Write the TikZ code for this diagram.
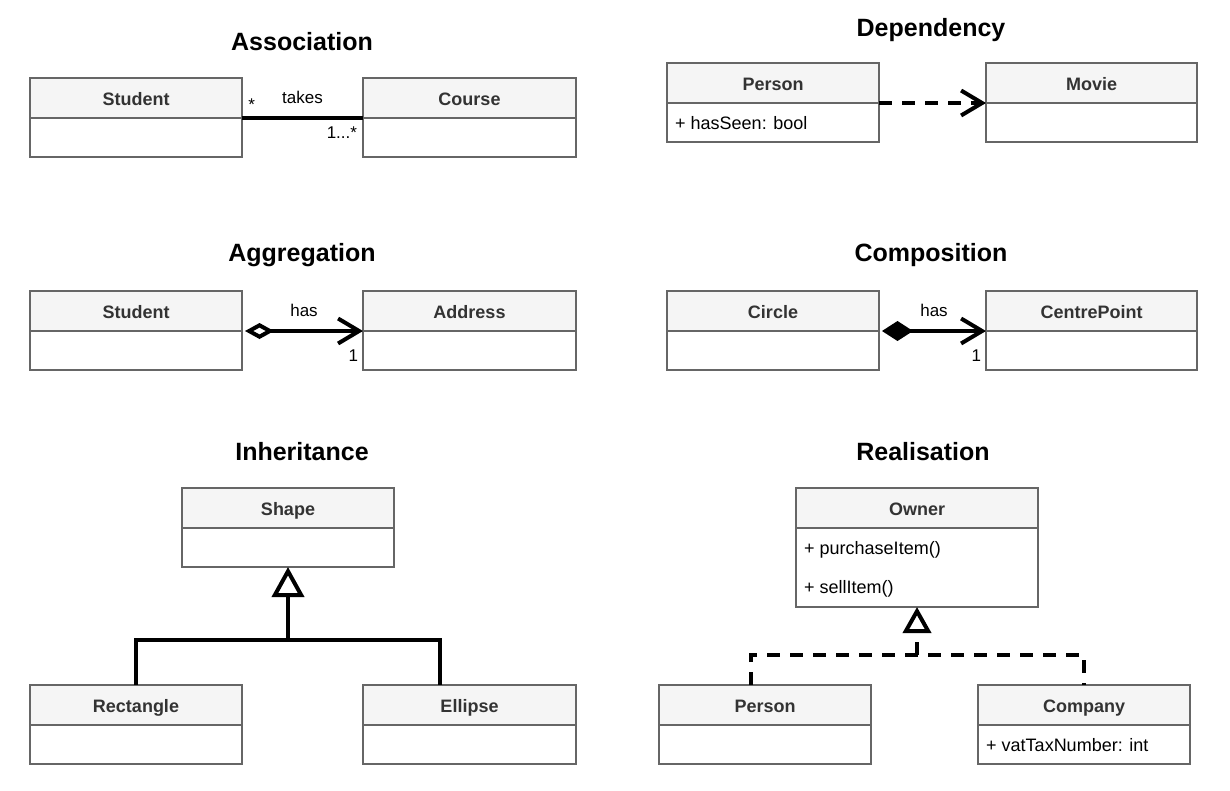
\documentclass[tikz,border=0pt]{standalone}
\usepackage{fontspec}
\setmainfont{Liberation Sans}
\usetikzlibrary{positioning,arrows.meta}

\definecolor{headgray}{HTML}{F5F5F5}
\definecolor{boxgray}{HTML}{666666}
\definecolor{namegray}{HTML}{333333}

\tikzset{
    title/.style={anchor=base, inner sep=0pt, font=\fontsize{25}{29}\selectfont\bfseries},
    chead/.style={draw=boxgray, fill=headgray, line width=1.3pt, minimum width=#1, minimum height=40pt,
        inner sep=0pt, outer sep=0pt, anchor=north west, text=namegray, text height=18pt, text depth=3pt,
        font=\fontsize{18}{21}\selectfont\bfseries},
    chead/.default=212pt,
    cbody/.style={draw=boxgray, fill=white, line width=1.3pt, minimum width=#1, minimum height=39pt,
        inner sep=0pt, outer sep=0pt},
    cbody/.default=212pt,
    tall/.style={minimum height=79pt},
    attr/.style={anchor=base west, inner sep=0pt, font=\fontsize{18}{21}\selectfont},
    lbl/.style={inner sep=0pt, font=\fontsize{17}{20}\selectfont},
    conn/.style={line width=4pt},
    dconn/.style={conn, dash pattern=on 13pt off 10pt},
    opn/.tip={Straight Barb[length=21pt, width=25pt]},
    odia/.tip={Diamond[open, length=29pt, width=16pt]},
    fdia/.tip={Diamond[length=31pt, width=20pt]},
    otri/.tip={Triangle[open, length=30pt, width=32pt]},
    stri/.tip={Triangle[open, length=26pt, width=28pt]}
}

\begin{document}
\begin{tikzpicture}[x=1pt, y=-1pt]
    \useasboundingbox (0,0) rectangle (1230,790);

    % Titles
    \node[title] (tasc) at (302,50) {Association};
    \node[title] (tdep) at (931,36) {Dependency};
    \node[title] (tagg) at (302,261) {Aggregation};
    \node[title] (tcom) at (931,261) {Composition};
    \node[title] (tinh) at (302,460) {Inheritance};
    \node[title] (trea) at (923,460) {Realisation};

    % Association
    \node[chead] (stuA) at (30,78) {Student};
    \node[cbody, below=0pt of stuA] (stuAb) {};
    \node[chead=213pt] (crsA) at (363,78) {Course};
    \node[cbody=213pt, below=0pt of crsA] (crsAb) {};
    \draw[conn] (stuA.south east) -- (crsA.south west)
        node[lbl, pos=0.08, anchor=base, yshift=8pt] {*}
        node[lbl, midway, anchor=base, yshift=15pt] {takes}
        node[lbl, pos=1, anchor=base east, xshift=-4pt, yshift=-20pt] {1...*};

    % Dependency
    \node[chead] (perD) at (667,63) {Person};
    \node[cbody, below=0pt of perD] (perDb) {};
    \node[attr] (seen) at ([xshift=8pt]perDb.north west |- 0,129) {+ hasSeen: bool};
    \node[chead=211pt] (movD) at (986,63) {Movie};
    \node[cbody=211pt, below=0pt of movD] (movDb) {};
    \draw[dconn, -opn] (perD.south east) -- (movD.south west);

    % Aggregation
    \node[chead] (stuG) at (30,291) {Student};
    \node[cbody, below=0pt of stuG] (stuGb) {};
    \node[chead=213pt] (adrG) at (363,291) {Address};
    \node[cbody=213pt, below=0pt of adrG] (adrGb) {};
    \draw[conn, odia-opn] ([xshift=3pt]stuG.south east) -- (adrG.south west)
        node[lbl, midway, anchor=base, yshift=15pt] {has}
        node[lbl, pos=1, anchor=base east, xshift=-3pt, yshift=-30pt] {1};

    % Composition
    \node[chead] (cirC) at (667,291) {Circle};
    \node[cbody, below=0pt of cirC] (cirCb) {};
    \node[chead=211pt] (cptC) at (986,291) {CentrePoint};
    \node[cbody=211pt, below=0pt of cptC] (cptCb) {};
    \draw[conn, fdia-opn] ([xshift=3pt]cirC.south east) -- (cptC.south west)
        node[lbl, midway, anchor=base, yshift=15pt] {has}
        node[lbl, pos=1, anchor=base east, xshift=-3pt, yshift=-30pt] {1};

    % Inheritance
    \node[chead] (shpI) at (182,488) {Shape};
    \node[cbody, below=0pt of shpI] (shpIb) {};
    \node[chead] (recI) at (30,685) {Rectangle};
    \node[cbody, below=0pt of recI] (recIb) {};
    \node[chead=213pt] (ellI) at (363,685) {Ellipse};
    \node[cbody=213pt, below=0pt of ellI] (ellIb) {};
    \coordinate[below=73pt of shpIb.south] (jI);
    \coordinate (ellIn) at ([xshift=77pt]ellI.north west);
    \draw[conn] (recI.north) |- (jI) -| (ellIn);
    \draw[conn, -otri] (jI) -- (shpIb.south);

    % Realisation
    \node[chead=242pt] (ownR) at (796,488) {Owner};
    \node[cbody=242pt, tall, below=0pt of ownR] (ownRb) {};
    \node[attr] (buy) at ([xshift=8pt]ownRb.north west |- 0,554) {+ purchaseItem()};
    \node[attr] (sell) at ([xshift=8pt]ownRb.north west |- 0,593) {+ sellItem()};
    \node[chead] (perR) at (659,685) {Person};
    \node[cbody, below=0pt of perR] (perRb) {};
    \node[chead] (cmpR) at (978,685) {Company};
    \node[cbody, below=0pt of cmpR] (cmpRb) {};
    \node[attr] (vat) at ([xshift=8pt]cmpRb.north west |- 0,751) {+ vatTaxNumber: int};
    \coordinate[below=48pt of ownRb.south] (jR);
    \coordinate (perRn) at ([xshift=92pt]perR.north west);
    \draw[dconn] (perRn) |- (jR) -| (cmpR.north);
    \draw[dconn, -stri] (jR) -- (ownRb.south);
\end{tikzpicture}
\end{document}
